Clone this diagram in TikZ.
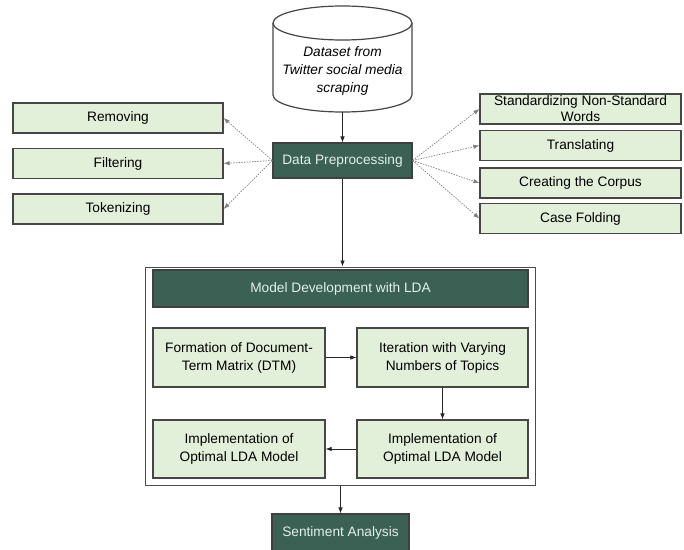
\documentclass[tikz,border=0pt]{standalone}
\usepackage{fontspec}
\setmainfont{Liberation Sans}
\usetikzlibrary{arrows.meta,positioning}
\definecolor{darkteal}{RGB}{59,96,84}
\definecolor{palegreen}{RGB}{226,239,217}
\definecolor{edgegray}{RGB}{70,70,70}
\definecolor{lighttext}{RGB}{226,240,233}

\begin{document}
\begin{tikzpicture}[x=1pt,y=-1pt,
    stepbox/.style={draw=edgegray,line width=1.2pt,fill=palegreen,inner sep=0pt,align=center,font=\fontsize{13.7}{18}\selectfont},
    darkbox/.style={draw=black!75,line width=1.2pt,fill=darkteal,text=lighttext,inner sep=0pt,align=center,font=\fontsize{13.7}{18}\selectfont},
    flow/.style={-{Latex[length=6pt,width=4.5pt]},line width=0.7pt,black!85},
    dotflow/.style={-{Latex[length=6pt,width=4.5pt]},line width=0.7pt,gray,dash pattern=on 1.5pt off 1.2pt}]
    \useasboundingbox (0,0) rectangle (684,549);

    % data source (cylinder)
    \draw[edgegray,line width=1.2pt,fill=white] (273,23) -- (273,95)
        arc[start angle=180,end angle=0,x radius=69.5,y radius=17] -- (412,23);
    \draw[edgegray,line width=1.2pt,fill=white] (342.5,23) ellipse[x radius=69.5,y radius=17];
    \node[align=center,font=\fontsize{13.7}{18}\selectfont\itshape] (src) at (342.5,71)
        {Dataset from\\Twitter social media\\scraping};
    \coordinate (srcbot) at (342.5,112);

    % preprocessing
    \node[darkbox,minimum width=139pt,minimum height=35pt] (prep) at (342.5,160.5) {Data Preprocessing};
    \draw[flow] (srcbot) -- (prep.north);

    % left steps
    \node[stepbox,minimum width=210pt,minimum height=30pt] (rem) at (118,118) {Removing};
    \node[stepbox,minimum width=210pt,minimum height=30pt] (filt) at (118,163.5) {Filtering};
    \node[stepbox,minimum width=210pt,minimum height=30pt] (tok) at (118,209) {Tokenizing};
    \draw[dotflow] (prep.west) -- (rem.east);
    \draw[dotflow] (prep.west) -- (filt.east);
    \draw[dotflow] (prep.west) -- (tok.east);

    % right steps
    \node[stepbox,minimum width=201pt,minimum height=30pt,font=\fontsize{13.7}{16}\selectfont] (std) at (580.5,109)
        {Standardizing Non-Standard\\Words};
    \node[stepbox,minimum width=201pt,minimum height=30pt] (trans) at (580.5,145.5) {Translating};
    \node[stepbox,minimum width=201pt,minimum height=30pt] (corp) at (580.5,183) {Creating the Corpus};
    \node[stepbox,minimum width=201pt,minimum height=30pt] (fold) at (580.5,218.5) {Case Folding};
    \draw[dotflow] (prep.east) -- (std.west);
    \draw[dotflow] (prep.east) -- (trans.west);
    \draw[dotflow] (prep.east) -- (corp.west);
    \draw[dotflow] (prep.east) -- (fold.west);

    % LDA block
    \node[draw=black!70,line width=1pt,minimum width=390pt,minimum height=218pt] (lda) at (340,376) {};
    \draw[flow] (prep.south) -- (prep.south |- lda.north);
    \node[darkbox,minimum width=375pt,minimum height=37pt] (ldahead) at (340.5,288.5) {Model Development with LDA};
    \node[stepbox,minimum width=172pt,minimum height=59pt] (dtm) at (239,357.5)
        {Formation of Document-\\Term Matrix (DTM)};
    \node[stepbox,minimum width=171pt,minimum height=59pt] (iter) at (442.5,357.5)
        {Iteration with Varying\\Numbers of Topics};
    \node[stepbox,minimum width=171pt,minimum height=58pt] (implr) at (442.5,449)
        {Implementation of\\Optimal LDA Model};
    \node[stepbox,minimum width=172pt,minimum height=58pt] (impll) at (239,449)
        {Implementation of\\Optimal LDA Model};
    \draw[flow] (dtm) -- (iter);
    \draw[flow] (iter) -- (implr);
    \draw[flow] (implr) -- (impll);

    % output
    \node[darkbox,minimum width=137pt,minimum height=38pt] (senti) at (340.5,533) {Sentiment Analysis};
    \draw[flow] (senti.north |- lda.south) -- (senti.north);
\end{tikzpicture}
\end{document}
